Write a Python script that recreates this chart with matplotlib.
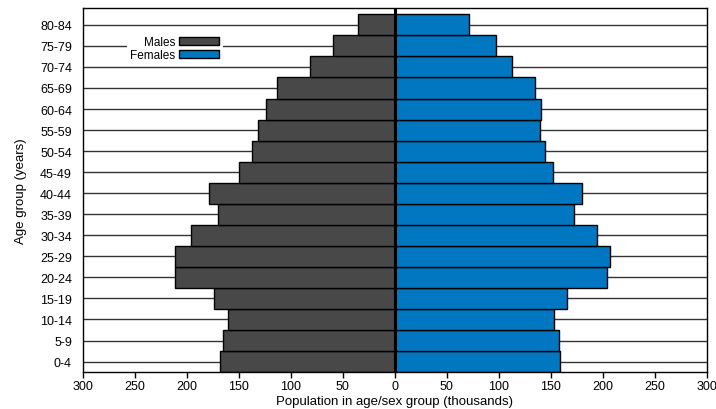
import matplotlib.pyplot as plt
from matplotlib.patches import Patch
import numpy as np

plt.rcParams['font.family'] = ['Liberation Sans', 'DejaVu Sans']

age_groups = ['0-4', '5-9', '10-14', '15-19', '20-24', '25-29', '30-34', '35-39',
              '40-44', '45-49', '50-54', '55-59', '60-64', '65-69', '70-74',
              '75-79', '80-84']
males = [168, 165, 161, 174, 212, 212, 196, 170, 179, 150, 137, 132, 124, 113, 82, 60, 35]
females = [159, 158, 153, 166, 204, 207, 194, 172, 180, 152, 144, 140, 141, 135, 113, 97, 71]
xticks = [-300, -250, -200, -150, -100, -50, 0, 50, 100, 150, 200, 250, 300]

male_color = '#484848'
female_color = '#0077c0'

fig = plt.figure(figsize=(7.16, 4.10), dpi=100)
ax = fig.add_axes([0.116, 0.090, 0.871, 0.888])

y = np.arange(len(age_groups))

# gridlines through the middle of every age band
for yy in y:
    ax.axhline(yy, color='#333333', linewidth=1.0, zorder=1)

ax.barh(y, -np.array(males), height=1.0, color=male_color,
        edgecolor='black', linewidth=1.0, zorder=2)
ax.barh(y, females, height=1.0, color=female_color,
        edgecolor='black', linewidth=1.0, zorder=2)
ax.axvline(0, color='black', linewidth=2.2, zorder=3)

ax.set_xlim(-300, 300)
ax.set_ylim(-0.5, 16.8)
ax.set_xticks(xticks)
ax.set_xticklabels([str(abs(v)) for v in xticks], fontsize=9)
ax.set_yticks(y)
ax.set_yticklabels(age_groups, fontsize=9)
ax.tick_params(axis='x', direction='out', length=4, width=1, pad=2)
ax.tick_params(axis='y', length=0, pad=8)

for s in ax.spines.values():
    s.set_linewidth(1.0)
    s.set_color('black')

ax.set_xlabel('Population in age/sex group (thousands)', fontsize=9.5, labelpad=2)
ax.set_ylabel('Age group (years)', fontsize=9.5, labelpad=9)

handles = [Patch(facecolor=male_color, edgecolor='black', label='Males'),
           Patch(facecolor=female_color, edgecolor='black', label='Females')]
leg = ax.legend(handles=handles, loc='upper left', bbox_to_anchor=(0.07, 0.932),
                markerfirst=False, frameon=True, fancybox=False, fontsize=8.5,
                handlelength=3.4, handleheight=0.7, labelspacing=0.1,
                handletextpad=0.3, borderpad=0.3, borderaxespad=0)
leg.get_frame().set_facecolor('white')
leg.get_frame().set_edgecolor('none')
leg.get_frame().set_alpha(1)
leg.set_zorder(5)
for t in leg.get_texts():
    t.set_ha('right')

fig.savefig('out.png', dpi=100)
